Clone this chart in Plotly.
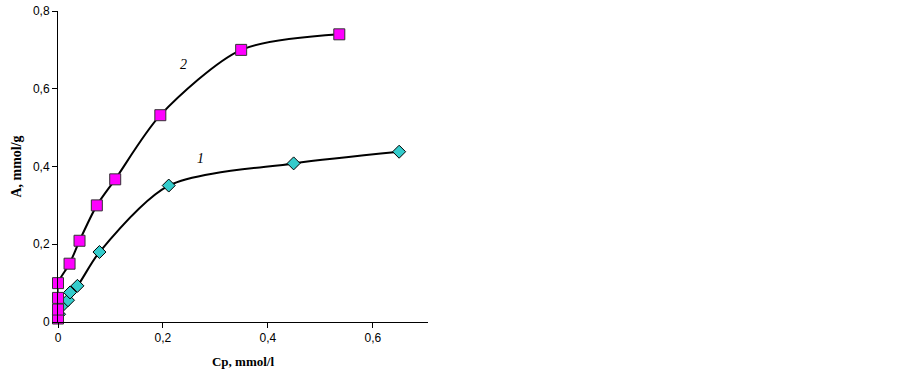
import plotly.graph_objects as go

# Series 1 (diamonds)
cp1 = [0.002, 0.009, 0.019, 0.023, 0.037, 0.079, 0.211, 0.449, 0.650]
a1 = [0.020, 0.043, 0.056, 0.076, 0.093, 0.180, 0.351, 0.408, 0.438]

# Series 2 (squares)
cp2 = [0.0, 0.0, 0.0, 0.0, 0.022, 0.041, 0.074, 0.109, 0.195, 0.349, 0.536]
a2 = [0.009, 0.032, 0.062, 0.100, 0.150, 0.209, 0.300, 0.367, 0.532, 0.700, 0.740]

x_ticks = [0, 0.2, 0.4, 0.6]
y_ticks = [0, 0.2, 0.4, 0.6, 0.8]

fig = go.Figure()
fig.add_trace(go.Scatter(
    x=cp1, y=a1, mode="lines+markers", cliponaxis=False,
    line=dict(color="black", width=2, shape="spline", smoothing=0.8),
    marker=dict(symbol="diamond", size=10, color="#33CCCC",
                line=dict(color="black", width=1)),
    showlegend=False))
fig.add_trace(go.Scatter(
    x=cp2, y=a2, mode="lines+markers", cliponaxis=False,
    line=dict(color="black", width=2, shape="spline", smoothing=0.8),
    marker=dict(symbol="square", size=11, color="#FF00FF",
                line=dict(color="#333333", width=1)),
    showlegend=False))

fig.add_annotation(x=0.239, y=0.663, text="<i>2</i>", showarrow=False,
                   font=dict(family="Liberation Serif", size=14, color="black"))
fig.add_annotation(x=0.271, y=0.421, text="<i>1</i>", showarrow=False,
                   font=dict(family="Liberation Serif", size=14, color="black"))

fig.update_layout(
    width=903, height=373,
    margin=dict(l=58, r=475, t=11, b=51),
    paper_bgcolor="white", plot_bgcolor="white",
    separators=", ",
    font=dict(family="Liberation Sans", size=12, color="black"),
)
fig.update_xaxes(
    range=[0, 0.705], tickvals=x_ticks, ticks="outside", ticklen=5,
    tickcolor="black", showline=True, linecolor="black", linewidth=1,
    showgrid=False, zeroline=False, automargin=False,
    tickfont=dict(family="Liberation Sans", size=12),
    title=dict(text="<b>Cp, mmol/l</b>", standoff=12,
               font=dict(family="Liberation Serif", size=13)),
)
fig.update_yaxes(
    range=[0, 0.8], tickvals=y_ticks, ticks="outside", ticklen=5,
    tickcolor="black", showline=True, linecolor="black", linewidth=1,
    showgrid=False, zeroline=False, automargin=False,
    tickfont=dict(family="Liberation Sans", size=12),
    title=dict(text="<b>A, mmol/g</b>", standoff=8,
               font=dict(family="Liberation Serif", size=14)),
)

fig.write_html(
    "out.html",
    config={"displayModeBar": False},
    post_script="document.body.style.margin='0';document.body.style.overflow='hidden';",
)
